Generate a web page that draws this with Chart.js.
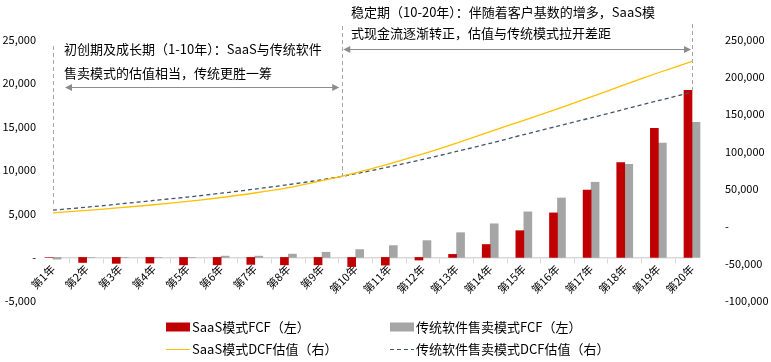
<!DOCTYPE html>
<html>
<head>
<meta charset="utf-8">
<script src="https://cdn.jsdelivr.net/npm/chart.js@4.4.1/dist/chart.umd.min.js"></script>
<style>
  html, body { margin: 0; padding: 0; background: #fff; }
  #wrap { width: 771px; height: 362px; }
</style>
</head>
<body>
<div id="wrap"><canvas id="myChart"></canvas></div>
<script>
const years = ['第1年', '第2年', '第3年', '第4年', '第5年', '第6年', '第7年', '第8年', '第9年', '第10年',
    '第11年', '第12年', '第13年', '第14年', '第15年', '第16年', '第17年', '第18年', '第19年', '第20年'];

// FCF, left axis
const saasFcf = [0, -580, -680, -650, -850, -850, -800, -850, -850, -1050,
    -880, -300, 350, 1480, 3070, 5110, 7730, 10900, 14830, 19180];
const tradFcf = [-200, 0, 0, 0, 0, 150, 150, 380, 600, 900,
    1360, 1930, 2840, 3860, 5230, 6820, 8630, 10680, 13120, 15500];

// DCF valuation, right axis
const saasDcf = [18000, 21300, 24900, 28900, 33300, 38600, 44600, 51800, 61100, 71700,
    83700, 96900, 111500, 126800, 142000, 157300, 173200, 189700, 205600, 220900];
const tradDcf = [21600, 25600, 30000, 34600, 39200, 44300, 49900, 55800, 62400, 70400,
    79700, 89600, 100200, 111200, 122800, 134000, 145300, 156900, 168300, 179800];

const leftTicks = { min: -5000, max: 25000, step: 5000 };
const rightTicks = { min: -100000, max: 250000, step: 50000 };

const FONT = '"Noto Sans CJK SC", "Microsoft YaHei", sans-serif';
const fmt = v => v === 0 ? '-' : v.toLocaleString('en-US');

// 2 x 2 legend like the excel one
const gridLegend = {
    id: 'gridLegend',
    afterDraw(chart) {
        const ctx = chart.ctx;
        const cols = [166, 390];
        const rows = [327, 349];
        chart.data.datasets.forEach((ds, i) => {
            const x = cols[i % 2];
            const y = rows[Math.floor(i / 2)];
            ctx.save();
            if (ds.type === 'bar') {
                ctx.fillStyle = ds.backgroundColor;
                ctx.fillRect(x, y - 4.5, 24, 9);
            } else {
                ctx.strokeStyle = ds.borderColor;
                ctx.lineWidth = 1;
                ctx.setLineDash(ds.borderDash || []);
                ctx.beginPath();
                ctx.moveTo(x, y + 0.5);
                ctx.lineTo(x + 24, y + 0.5);
                ctx.stroke();
            }
            ctx.setLineDash([]);
            ctx.fillStyle = '#000';
            ctx.font = '13px ' + FONT;
            ctx.textBaseline = 'middle';
            ctx.textAlign = 'left';
            ctx.fillText(ds.label, x + 26, y);
            ctx.restore();
        });
    }
};

// phase notes, dashed separators and arrows
const phaseNotes = {
    id: 'phaseNotes',
    afterDatasetsDraw(chart) {
        const ctx = chart.ctx;
        const xs = chart.scales.x;
        const y1 = chart.scales.y1;
        const xA = xs.getPixelForValue(0);
        const xB = xs.getPixelForValue(8.6);
        const xC = xs.getPixelForValue(19);
        const curveAt = idx => {
            const i = Math.floor(idx), f = idx - i;
            return y1.getPixelForValue(tradDcf[i] + (tradDcf[i + 1] - tradDcf[i]) * f);
        };

        ctx.save();
        ctx.strokeStyle = '#a6a6a6';
        ctx.lineWidth = 1;
        ctx.setLineDash([4, 3]);
        [[xA, 46, y1.getPixelForValue(tradDcf[0]) - 3],
         [xB, 26, curveAt(8.6)],
         [xC, 24, y1.getPixelForValue(tradDcf[19])]].forEach(([x, top, bot]) => {
            ctx.beginPath();
            ctx.moveTo(Math.round(x) + 0.5, top);
            ctx.lineTo(Math.round(x) + 0.5, bot);
            ctx.stroke();
        });
        ctx.setLineDash([]);

        const arrow = (x1, x2, y) => {
            ctx.strokeStyle = '#8c8c8c';
            ctx.fillStyle = '#8c8c8c';
            ctx.beginPath();
            ctx.moveTo(x1 + 4, y);
            ctx.lineTo(x2 - 4, y);
            ctx.stroke();
            ctx.beginPath();
            ctx.moveTo(x1, y); ctx.lineTo(x1 + 7, y - 3.5); ctx.lineTo(x1 + 7, y + 3.5); ctx.closePath();
            ctx.fill();
            ctx.beginPath();
            ctx.moveTo(x2, y); ctx.lineTo(x2 - 7, y - 3.5); ctx.lineTo(x2 - 7, y + 3.5); ctx.closePath();
            ctx.fill();
        };
        arrow(xA + 12, xB - 3, 87.5);
        arrow(xB + 1, xC - 1, 49.5);

        ctx.fillStyle = '#000';
        ctx.font = '13px ' + FONT;
        ctx.textBaseline = 'middle';
        ctx.textAlign = 'left';
        ctx.fillText('初创期及成长期（1-10年）：SaaS与传统软件', 64, 49);
        ctx.fillText('售卖模式的估值相当，传统更胜一筹', 64, 73);
        ctx.fillText('稳定期（10-20年）：伴随着客户基数的增多，SaaS模', 351, 12);
        ctx.fillText('式现金流逐渐转正，估值与传统模式拉开差距', 351, 33);
        ctx.restore();
    }
};

const ctx = document.getElementById('myChart');

new Chart(ctx, {
    data: {
        labels: years,
        datasets: [{
            type: 'bar',
            label: 'SaaS模式FCF（左）',
            data: saasFcf,
            backgroundColor: '#c00000',
            yAxisID: 'y',
            barThickness: 8,
            clip: false,
            order: 1
        }, {
            type: 'bar',
            label: '传统软件售卖模式FCF（左）',
            data: tradFcf,
            backgroundColor: '#a5a5a5',
            yAxisID: 'y',
            barThickness: 8,
            clip: false,
            order: 1
        }, {
            type: 'line',
            label: 'SaaS模式DCF估值（右）',
            data: saasDcf,
            borderColor: '#ffc000',
            borderWidth: 1.3,
            pointRadius: 0,
            tension: 0.3,
            yAxisID: 'y1',
            order: 0
        }, {
            type: 'line',
            label: '传统软件售卖模式DCF估值（右）',
            data: tradDcf,
            borderColor: '#44546a',
            borderWidth: 1.3,
            borderDash: [4, 3],
            pointRadius: 0,
            tension: 0.3,
            yAxisID: 'y1',
            order: 0
        }]
    },
    options: {
        responsive: true,
        maintainAspectRatio: false,
        animation: false,
        layout: { padding: { top: 37, bottom: 61, left: 0, right: 0 } },
        plugins: {
            legend: { display: false },
            tooltip: { enabled: false }
        },
        scales: {
            x: {
                type: 'category',
                position: { y: 0 },
                offset: false,
                grid: { display: true, drawOnChartArea: false, drawTicks: true, tickLength: 5, color: '#d9d9d9' },
                border: { display: true, color: '#d9d9d9', width: 1.5 },
                ticks: {
                    autoSkip: false,
                    maxRotation: 45,
                    minRotation: 45,
                    padding: 0,
                    color: '#000',
                    font: { family: FONT, size: 11 }
                }
            },
            y: {
                position: 'left',
                min: leftTicks.min,
                max: leftTicks.max,
                grid: { display: false, drawTicks: false },
                border: { display: false },
                ticks: {
                    stepSize: leftTicks.step,
                    padding: 17,
                    color: '#000',
                    font: { family: FONT, size: 11 },
                    callback: fmt
                },
                afterFit: s => { s.width = 53; }
            },
            y1: {
                position: 'right',
                min: rightTicks.min,
                max: rightTicks.max,
                grid: { display: false, drawTicks: false },
                border: { display: false },
                ticks: {
                    stepSize: rightTicks.step,
                    padding: 33,
                    color: '#000',
                    font: { family: FONT, size: 11 },
                    callback: fmt
                },
                afterFit: s => { s.width = 79; }
            }
        }
    },
    plugins: [phaseNotes, gridLegend]
});
</script>
</body>
</html>
